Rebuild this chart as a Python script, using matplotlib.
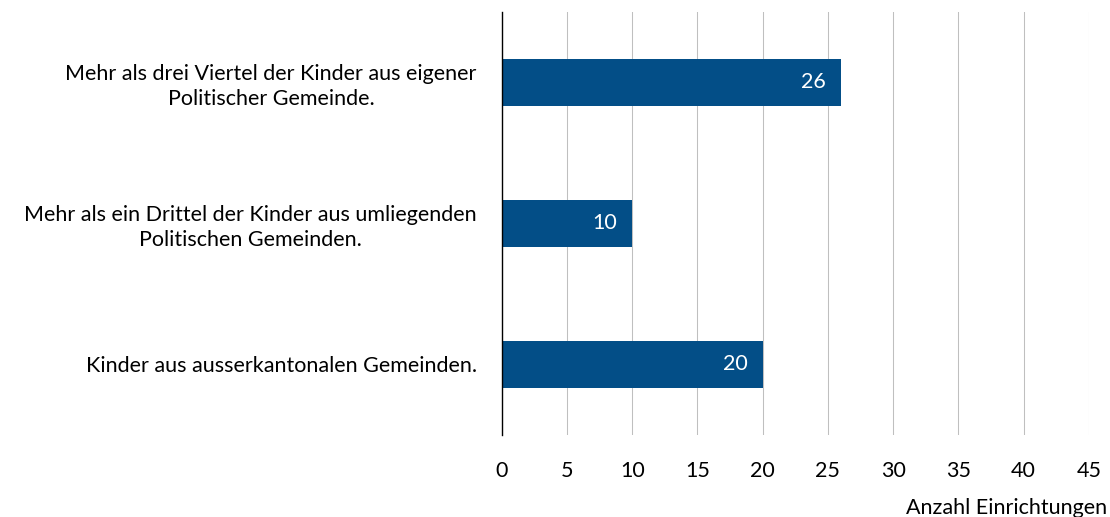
import matplotlib.pyplot as plt

# Data
categories = [
    "Mehr als drei Viertel der Kinder aus eigener\nPolitischer Gemeinde.",
    "Mehr als ein Drittel der Kinder aus umliegenden\nPolitischen Gemeinden.",
    "Kinder aus ausserkantonalen Gemeinden.",
]
values = [26, 10, 20]
xticks = list(range(0, 50, 5))

plt.rcParams["font.family"] = ["Lato", "DejaVu Sans"]
fs = 15.5

fig = plt.figure(figsize=(11.1, 5.17), dpi=100)
ax = fig.add_axes([0.452, 0.159, 0.529, 0.818])

ypos = list(range(len(categories)))
ax.barh(ypos, values, height=0.333, color="#034E87", zorder=3)

# value labels inside bar end
for y, v in zip(ypos, values):
    ax.annotate(str(v), xy=(v, y), xytext=(-11, 0), textcoords="offset points",
                ha="right", va="center", color="white", fontsize=fs, zorder=4)

ax.set_xlim(0, 45)
ax.set_ylim(2.5, -0.5)
ax.set_xticks(xticks)
ax.set_yticks(ypos)
ax.set_yticklabels(categories, fontsize=fs, multialignment="center", linespacing=1.3)
ax.tick_params(axis="x", length=0, pad=19, labelsize=fs)
ax.tick_params(axis="y", length=0, pad=18)

# Grid
ax.grid(axis="x", color="#BFBFBF", linewidth=0.75, zorder=0)
for s in ["top", "right", "bottom"]:
    ax.spines[s].set_visible(False)
ax.spines["left"].set_color("black")
ax.spines["left"].set_linewidth(1)
ax.spines["left"].set_zorder(5)

fig.text(0.997, 0.017, "Anzahl Einrichtungen", ha="right", va="center", fontsize=fs)

fig.savefig("out.png", dpi=100)
